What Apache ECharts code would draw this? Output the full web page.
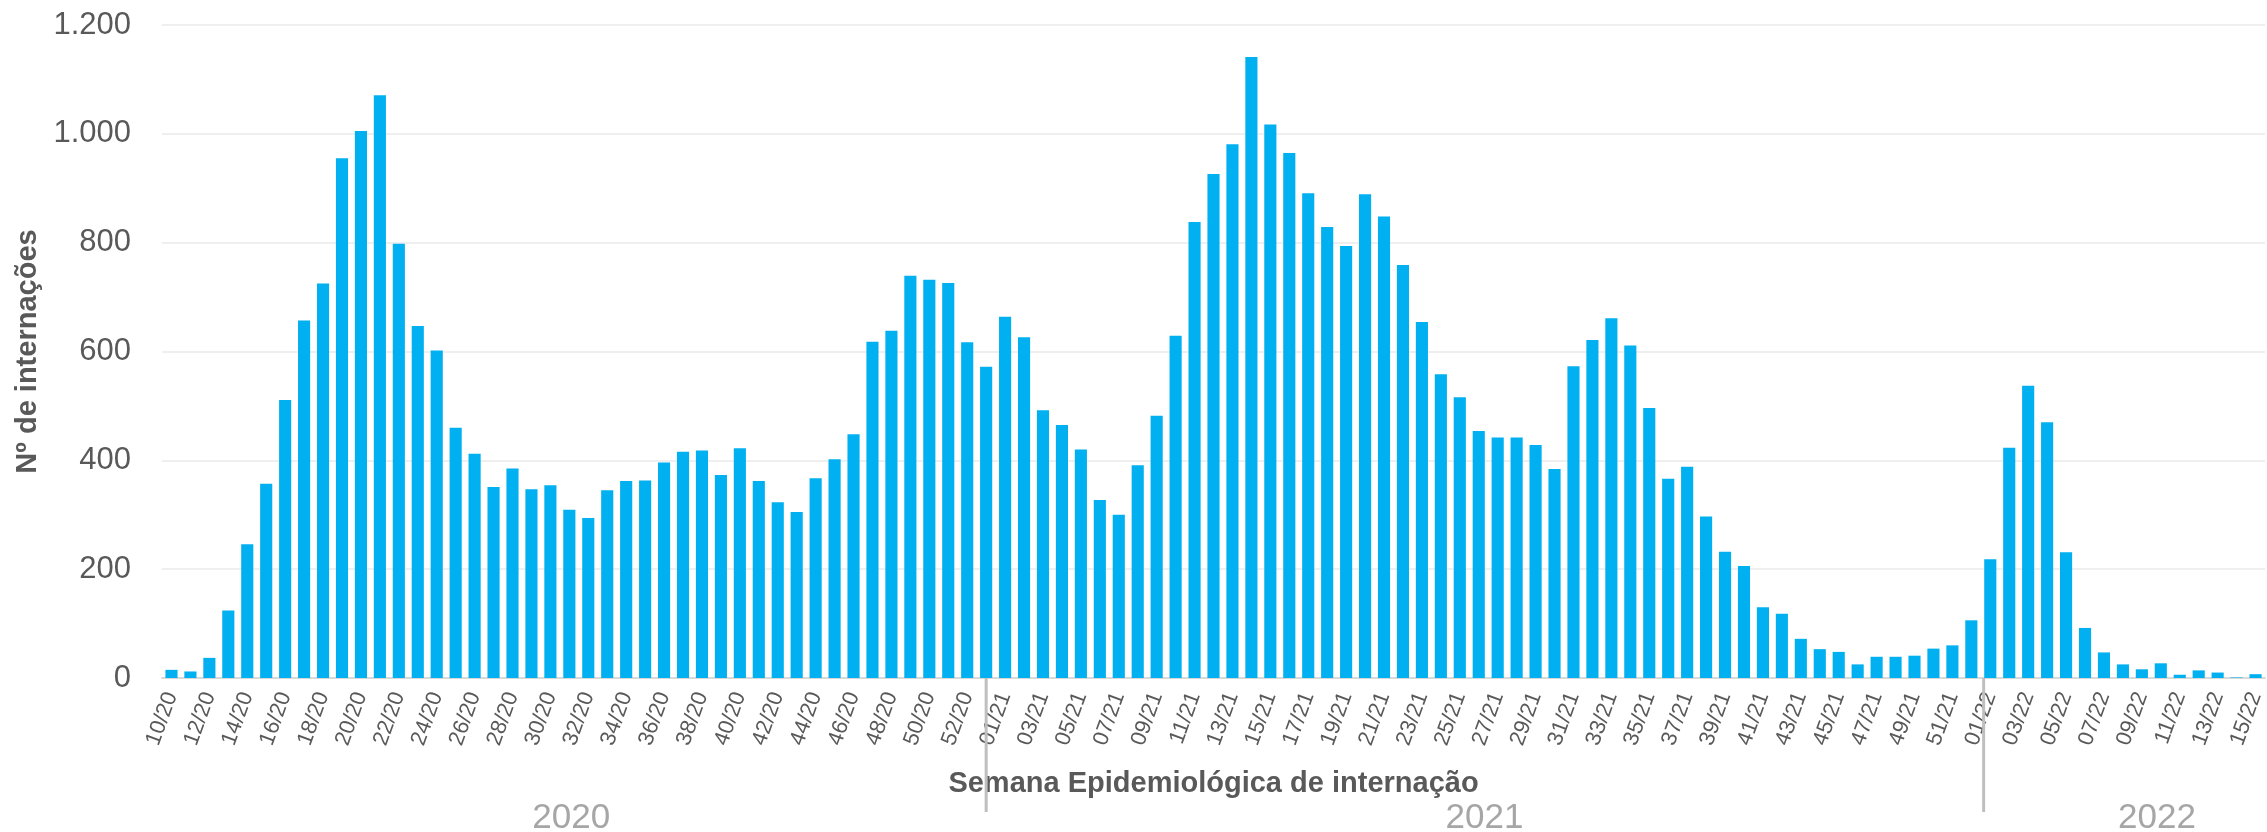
<!DOCTYPE html>
<html>
<head>
<meta charset="utf-8">
<script src="https://cdn.jsdelivr.net/npm/echarts@6/dist/echarts.min.js"></script>
<style>
  html, body { margin: 0; padding: 0; background: #fff; }
  #chart { width: 2267px; height: 832px; }
</style>
</head>
<body>
<div id="chart"></div>
<script>
// semanas epidemiológicas por ano
const weeks2020 = []
for (let w = 10; w <= 53; w++) weeks2020.push(String(w).padStart(2, '0') + '/20')
const weeks2021 = []
for (let w = 1; w <= 52; w++) weeks2021.push(String(w).padStart(2, '0') + '/21')
const weeks2022 = []
for (let w = 1; w <= 15; w++) weeks2022.push(String(w).padStart(2, '0') + '/22')

const values2020 = [15, 12, 37, 124, 246, 357, 511, 657, 725, 955, 1005, 1071, 798, 647, 602, 460, 412, 351, 385, 347,
  354, 309, 294, 345, 362, 363, 396, 416, 418, 373, 422, 362, 323, 305, 367, 402, 448, 618, 638, 739,
  732, 726, 617, 572]
const values2021 = [664, 626, 492, 465, 420, 327, 300, 391, 482, 629, 838, 926, 981, 1141, 1017, 965, 891, 829, 794, 889,
  848, 759, 654, 558, 516, 454, 442, 442, 428, 384, 573, 621, 661, 611, 496, 366, 388, 297, 232, 206,
  130, 118, 72, 53, 48, 25, 39, 39, 41, 54, 60, 106]
const values2022 = [218, 423, 537, 470, 231, 92, 47, 25, 16, 27, 6, 14, 10, 1, 7]

const years = ['2020', '2021', '2022']
const yTicks = [0, 200, 400, 600, 800, 1000, 1200]

const categories = weeks2020.concat(weeks2021, weeks2022)
const values = values2020.concat(values2021, values2022)

const FONT = 'Liberation Sans, Arial, sans-serif'
const fmt = v => String(v).replace(/\B(?=(\d{3})+(?!\d))/g, '.')

const myChart = echarts.init(document.getElementById('chart'))
myChart.setOption({
  animation: false,
  textStyle: { fontFamily: FONT },
  grid: { left: 162, right: 2, top: 25, bottom: 154 },
  xAxis: {
    type: 'category',
    data: categories,
    name: 'Semana Epidemiológica de internação',
    nameLocation: 'middle',
    nameGap: 91,
    nameTextStyle: { fontSize: 29, fontWeight: 'bold', color: '#595959', fontFamily: FONT },
    axisTick: { show: false },
    axisLine: { lineStyle: { color: '#d9d9d9', width: 2 } },
    axisLabel: {
      interval: 1,
      rotate: 70,
      margin: 15,
      fontSize: 22,
      color: '#595959',
      fontFamily: FONT
    }
  },
  yAxis: {
    type: 'value',
    min: yTicks[0],
    max: yTicks[yTicks.length - 1],
    interval: 200,
    name: 'Nº de internações',
    nameLocation: 'middle',
    nameGap: 119,
    nameRotate: 90,
    nameTextStyle: { fontSize: 29, fontWeight: 'bold', color: '#595959', fontFamily: FONT },
    axisLine: { show: false },
    axisTick: { show: false },
    axisLabel: {
      margin: 31,
      fontSize: 31,
      color: '#595959',
      fontFamily: FONT,
      formatter: fmt
    },
    splitLine: { lineStyle: { color: '#efefef', width: 2 } }
  },
  series: [
    {
      type: 'bar',
      data: values,
      barWidth: '64%',
      itemStyle: { color: '#00b0f0' }
    }
  ]
})

// separadores de ano e rótulos de ano, posicionados pelo eixo de categorias
const p0 = myChart.convertToPixel({ xAxisIndex: 0 }, 0)
const p1 = myChart.convertToPixel({ xAxisIndex: 0 }, 1)
const step = p1 - p0
const xAt = idx => p0 + idx * step
const yBase = myChart.convertToPixel({ yAxisIndex: 0 }, 0)

const sepIdx = [weeks2020.length - 1, weeks2020.length + weeks2021.length - 0.35]
const yearIdx = [21.1, 69.3, 104.8]

const graphics = []
sepIdx.forEach(i => {
  graphics.push({
    type: 'line',
    shape: { x1: xAt(i), y1: yBase, x2: xAt(i), y2: yBase + 134 },
    style: { stroke: '#bfbfbf', lineWidth: 3 },
    z: 10
  })
})
years.forEach((y, k) => {
  graphics.push({
    type: 'text',
    x: xAt(yearIdx[k]),
    y: yBase + 140,
    style: {
      text: y,
      fontSize: 35,
      fontFamily: FONT,
      fill: '#a6a6a6',
      align: 'center',
      verticalAlign: 'middle'
    },
    z: 10
  })
})
myChart.setOption({ graphic: graphics })
</script>
</body>
</html>
